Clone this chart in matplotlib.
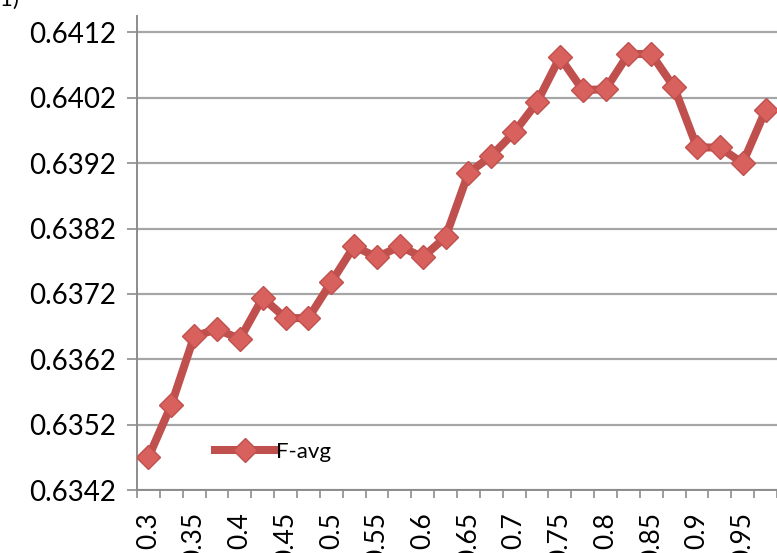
import numpy as np
import matplotlib
matplotlib.use('Agg')
import matplotlib.pyplot as plt

# threshold categories and F-avg values
thresholds = ['0.3', '0.325', '0.35', '0.375', '0.4', '0.425', '0.45', '0.475',
              '0.5', '0.525', '0.55', '0.575', '0.6', '0.625', '0.65', '0.675',
              '0.7', '0.725', '0.75', '0.775', '0.8', '0.825', '0.85', '0.875',
              '0.9', '0.925', '0.95', '0.975']
f_avg = [0.63470, 0.63550, 0.63655, 0.63666, 0.63651, 0.63714, 0.63683, 0.63683,
         0.63738, 0.63793, 0.63776, 0.63793, 0.63776, 0.63807, 0.63905, 0.63931,
         0.63967, 0.64013, 0.64082, 0.64032, 0.64033, 0.64087, 0.64087, 0.64036,
         0.63944, 0.63944, 0.63920, 0.64001]
y_ticks = [0.6342, 0.6352, 0.6362, 0.6372, 0.6382, 0.6392, 0.6402, 0.6412]

plt.rcParams['font.family'] = ['Lato', 'DejaVu Sans']

fig = plt.figure(figsize=(7.77, 5.53), dpi=100)
ax = fig.add_axes([0.1763, 0.1139, 0.8237, 0.857])

x = np.arange(len(thresholds))
ax.plot(x, f_avg, color='#C0504D', lw=5.8, marker='D', markersize=12,
        markerfacecolor='#D8605D', markeredgecolor='#C0504D', markeredgewidth=1,
        label='F-avg', clip_on=True, zorder=3)

ax.set_ylim(0.6342, 0.64145)
ax.set_xlim(-0.5, 26.97)
ax.set_yticks(y_ticks)
ax.set_yticklabels([f'{v:.4f}' for v in y_ticks], fontsize=20)
ax.grid(axis='y', color='#A6A6A6', lw=1.6)
ax.set_axisbelow(True)

# labels on every other category, tick marks between categories
ax.set_xticks(x[::2])
ax.set_xticklabels(thresholds[::2], rotation=90, fontsize=19)
ax.set_xticks(np.arange(-0.5, len(thresholds), 1), minor=True)
ax.tick_params(axis='x', which='major', length=0, pad=16)
ax.tick_params(axis='x', which='minor', length=6, width=1.2, color='#8C8C8C', direction='out')
ax.tick_params(axis='y', length=7, width=1.2, color='#8C8C8C', pad=8)

for s in ['top', 'right']:
    ax.spines[s].set_visible(False)
for s in ['left', 'bottom']:
    ax.spines[s].set_color('#8C8C8C')
    ax.spines[s].set_linewidth(1.4)

ax.legend(loc='center left', bbox_to_anchor=(0.09, 0.08), frameon=False,
          fontsize=16, handlelength=2.7, handletextpad=0.05, numpoints=1)

fig.text(-0.008, 1.0, '(1)', fontsize=16, va='center', ha='left')

fig.savefig('out.png', dpi=100)
